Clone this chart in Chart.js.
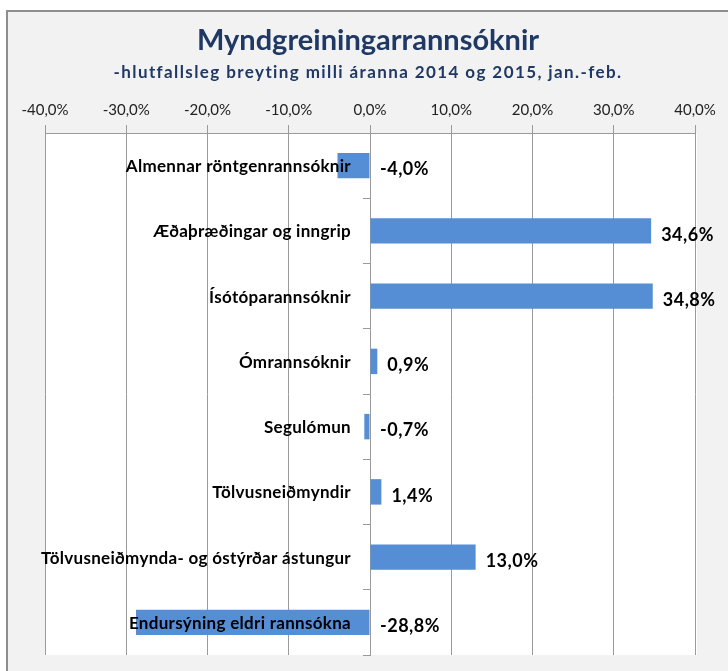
<!DOCTYPE html>
<html>
<head>
<meta charset="utf-8">
<script src="https://cdn.jsdelivr.net/npm/chart.js@4/dist/chart.umd.min.js"></script>
<style>
  html, body { margin: 0; padding: 0; background: #ffffff; }
  #wrap { position: absolute; left: 0; top: 0; width: 728px; height: 671px; }
</style>
</head>
<body>
<div id="wrap"><canvas id="chart" width="728" height="671"></canvas></div>
<script>
// Relative change in imaging examinations, Jan.-Feb. 2014 vs 2015
const titleText = 'Myndgreiningarrannsóknir';
const subtitleText = '-hlutfallsleg breyting milli áranna 2014 og 2015, jan.-feb.';

const categories = [
  'Almennar röntgenrannsóknir',
  'Æðaþræðingar og inngrip',
  'Ísótóparannsóknir',
  'Ómrannsóknir',
  'Segulómun',
  'Tölvusneiðmyndir',
  'Tölvusneiðmynda- og óstýrðar ástungur',
  'Endursýning eldri rannsókna'
];
const changePct = [-4.0, 34.6, 34.8, 0.9, -0.7, 1.4, 13.0, -28.8];

const axisMin = -40;
const axisMax = 40;
const axisStep = 10;

const FONT = 'Lato, "Open Sans", sans-serif';
const NAVY = '#1f3864';
const GRID = '#9a9a9a';

const fmtPct = v => v.toFixed(1).replace('.', ',') + '%';

// page frame, grey panel, white plot area and the titles
const framePlugin = {
  id: 'frame',
  beforeDraw(chart) {
    const { ctx, chartArea: a } = chart;
    ctx.save();
    ctx.fillStyle = '#ffffff';
    ctx.fillRect(0, 0, chart.width, chart.height);
    ctx.fillStyle = '#f2f2f2';
    ctx.fillRect(6, 10, chart.width - 6, chart.height - 10);
    ctx.strokeStyle = '#8e8e8e';
    ctx.lineWidth = 2;
    ctx.beginPath();
    ctx.moveTo(7, chart.height);
    ctx.lineTo(7, 11);
    ctx.lineTo(chart.width, 11);
    ctx.stroke();
    ctx.fillStyle = '#ffffff';
    ctx.fillRect(a.left, a.top, a.right - a.left + 2, a.bottom - a.top);
    ctx.restore();
  },
  afterDraw(chart) {
    const ctx = chart.ctx;
    ctx.save();
    ctx.fillStyle = NAVY;
    ctx.textAlign = 'center';
    ctx.textBaseline = 'middle';
    ctx.font = 'bold 29px ' + FONT;
    ctx.fillText(titleText, 368, 41);
    ctx.font = 'bold 17px ' + FONT;
    ctx.letterSpacing = '1.4px';
    ctx.fillText(subtitleText, 368, 73);
    ctx.restore();
  }
};

// category names beside the zero line and value labels beside each bar
const labelPlugin = {
  id: 'barLabels',
  afterDatasetsDraw(chart) {
    const { ctx } = chart;
    const meta = chart.getDatasetMeta(0);
    const xScale = chart.scales.x;
    const zero = xScale.getPixelForValue(0);
    ctx.save();
    ctx.fillStyle = '#000000';
    ctx.textBaseline = 'middle';

    ctx.font = 'bold 17px ' + FONT;
    ctx.letterSpacing = '0.3px';
    ctx.textAlign = 'right';
    meta.data.forEach((bar, i) => {
      ctx.fillText(categories[i], zero - 19, bar.y + 1);
    });

    ctx.font = 'bold 18px ' + FONT;
    ctx.letterSpacing = '0.5px';
    ctx.textAlign = 'left';
    meta.data.forEach((bar, i) => {
      const v = changePct[i];
      const x = Math.max(xScale.getPixelForValue(v), zero) + 10;
      ctx.fillText(fmtPct(v), x, bar.y + 4);
    });
    ctx.restore();
  }
};

new Chart(document.getElementById('chart'), {
  type: 'bar',
  data: {
    labels: categories,
    datasets: [{
      data: changePct,
      backgroundColor: '#558ed5',
      borderWidth: 0,
      barPercentage: 0.39,
      categoryPercentage: 1.0
    }]
  },
  options: {
    indexAxis: 'y',
    responsive: false,
    animation: false,
    layout: { padding: { top: 90, left: 45, right: 33, bottom: 16 } },
    plugins: {
      legend: { display: false },
      tooltip: { enabled: false }
    },
    scales: {
      x: {
        position: 'top',
        min: axisMin,
        max: axisMax,
        afterFit(scale) { scale.height = 43; },
        ticks: {
          stepSize: axisStep,
          padding: 6,
          color: '#222222',
          font: { family: FONT, size: 15 },
          callback: v => fmtPct(v)
        },
        grid: {
          color: GRID,
          lineWidth: 1,
          tickLength: 8,
          drawTicks: true
        },
        border: { display: true, color: GRID, width: 1 }
      },
      y: {
        position: { x: 0 },
        ticks: { display: false },
        grid: {
          drawOnChartArea: false,
          drawTicks: true,
          tickLength: 7,
          color: GRID,
          offset: true
        },
        border: { display: true, color: GRID, width: 1 }
      }
    }
  },
  plugins: [framePlugin, labelPlugin]
});
</script>
</body>
</html>
